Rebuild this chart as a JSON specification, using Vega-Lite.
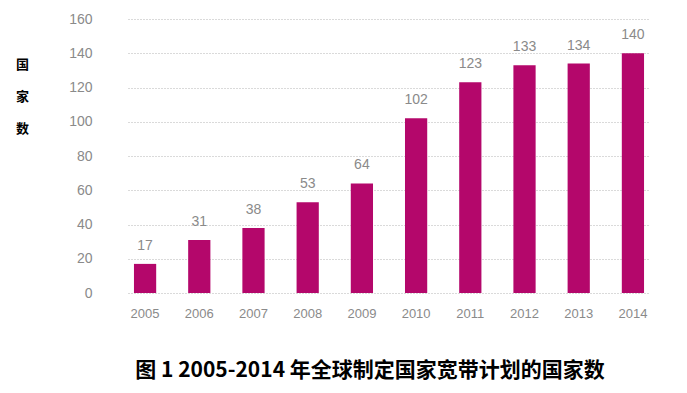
{
  "$schema": "https://vega.github.io/schema/vega-lite/v6.json",
  "width": 522,
  "height": 274,
  "autosize": {"type": "none"},
  "padding": {"left": 128, "top": 19, "right": 37, "bottom": 100},
  "background": "white",
  "data": {"values": [
    {"year": "2005", "n": 17},
    {"year": "2006", "n": 31},
    {"year": "2007", "n": 38},
    {"year": "2008", "n": 53},
    {"year": "2009", "n": 64},
    {"year": "2010", "n": 102},
    {"year": "2011", "n": 123},
    {"year": "2012", "n": 133},
    {"year": "2013", "n": 134},
    {"year": "2014", "n": 140}
  ]},
  "title": {
    "text": "图 1  2005-2014 年全球制定国家宽带计划的国家数",
    "orient": "bottom",
    "anchor": "middle",
    "dx": -19,
    "offset": 40,
    "font": "Noto Sans CJK SC",
    "fontSize": 21,
    "fontWeight": "bold",
    "color": "#000"
  },
  "config": {"view": {"stroke": null}},
  "encoding": {
    "x": {
      "field": "year", "type": "nominal",
      "scale": {"paddingInner": 0.59, "paddingOuter": 0.11},
      "axis": {"title": null, "labelAngle": 0, "domain": false, "ticks": false,
               "labelPadding": 14, "labelFont": "Liberation Sans", "labelFontSize": 13, "labelColor": "#8a8a8a"}
    },
    "y": {
      "field": "n", "type": "quantitative",
      "scale": {"domain": [0, 160]},
      "axis": {
        "values": [0, 20, 40, 60, 80, 100, 120, 140, 160],
        "domain": false, "ticks": false, "labelPadding": 36,
        "labelFont": "Liberation Sans", "labelFontSize": 14, "labelColor": "#8a8a8a",
        "grid": true, "gridColor": "#b5b5b5", "gridDash": [1, 2], "gridWidth": 1,
        "title": ["国", "家", "数"],
        "titleAngle": 0, "titleX": -106, "titleY": 39, "titleAlign": "center", "titleBaseline": "top",
        "titleLineHeight": 32, "titleFont": "Noto Sans CJK SC", "titleFontSize": 13, "titleFontWeight": "bold", "titleColor": "#000"
      }
    }
  },
  "layer": [
    {"mark": {"type": "bar", "color": "#B4076B"}},
    {"mark": {"type": "text", "baseline": "bottom", "dy": -11, "font": "Liberation Sans", "fontSize": 14, "color": "#8a8a8a"},
     "encoding": {"text": {"field": "n", "type": "quantitative"}}}
  ]
}
